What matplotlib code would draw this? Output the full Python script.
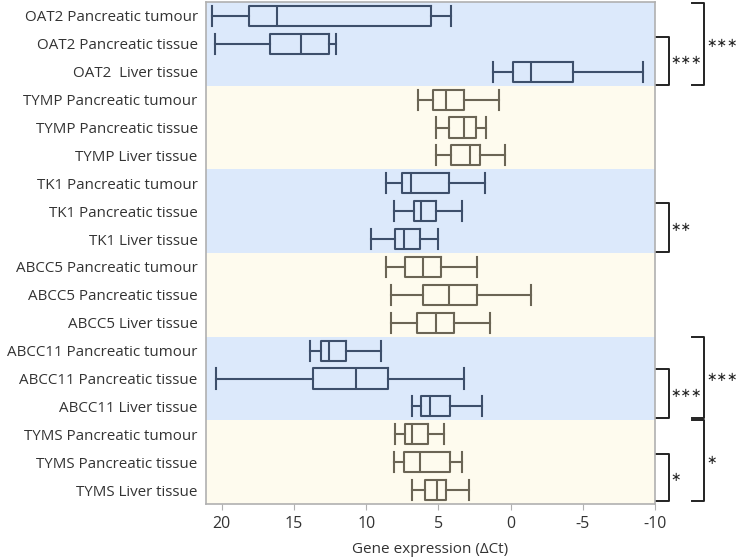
import matplotlib
matplotlib.use("Agg")
import matplotlib.pyplot as plt
from matplotlib.transforms import blended_transform_factory

plt.rcParams['font.family'] = ['Open Sans', 'DejaVu Sans']

labels = [
    "OAT2 Pancreatic tumour", "OAT2 Pancreatic tissue", "OAT2  Liver tissue",
    "TYMP Pancreatic tumour", "TYMP Pancreatic tissue", "TYMP Liver tissue",
    "TK1 Pancreatic tumour", "TK1 Pancreatic tissue", "TK1 Liver tissue",
    "ABCC5 Pancreatic tumour", "ABCC5 Pancreatic tissue", "ABCC5 Liver tissue",
    "ABCC11 Pancreatic tumour", "ABCC11 Pancreatic tissue", "ABCC11 Liver tissue",
    "TYMS Pancreatic tumour", "TYMS Pancreatic tissue", "TYMS Liver tissue",
]
whis_high = [20.7, 20.5, 1.2, 6.4, 5.2, 5.2, 8.6, 8.1, 9.7, 8.6, 8.3, 8.3, 13.9, 20.4, 6.8, 8.0, 8.1, 6.8]
q3 = [18.1, 16.7, -0.2, 5.4, 4.3, 4.1, 7.5, 6.7, 8.0, 7.3, 6.1, 6.5, 13.1, 13.7, 6.2, 7.3, 7.4, 5.9]
median = [16.2, 14.5, -1.4, 4.5, 3.2, 2.8, 6.9, 6.2, 7.4, 6.1, 4.3, 5.2, 12.6, 10.7, 5.6, 6.8, 6.3, 5.1]
q1 = [5.5, 12.6, -4.3, 3.2, 2.4, 2.1, 4.3, 5.2, 6.3, 4.8, 2.3, 3.9, 11.4, 8.5, 4.2, 5.7, 4.2, 4.5]
whis_low = [4.1, 12.1, -9.2, 0.8, 1.7, 0.4, 1.8, 3.4, 5.0, 2.3, -1.4, 1.4, 9.0, 3.2, 2.0, 4.6, 3.4, 2.9]

# brackets: (top row, bottom row, text, level)
brackets = [
    (0.75, 2.47, "∗∗∗", 0), (-0.46, 2.47, "∗∗∗", 1),
    (6.7, 8.46, "∗∗", 0),
    (12.65, 14.4, "∗∗∗", 0), (11.5, 14.4, "∗∗∗", 1),
    (15.7, 17.4, "∗", 0), (14.5, 17.4, "∗", 1),
]

blue_bg = "#dce9fb"
yellow_bg = "#fefbee"
blue_edge = "#3d4f6b"
yellow_edge = "#6b6555"

fig = plt.figure(figsize=(7.37, 5.6), dpi=100)
ax = fig.add_axes([0.2795, 0.1, 0.8887 - 0.2795, 0.9964 - 0.1])

n = len(labels)
for g in range(6):
    color = blue_bg if g % 2 == 0 else yellow_bg
    ax.axhspan(g * 3 - 0.5, g * 3 + 2.5, color=color, zorder=0, lw=0)

for i in range(n):
    edge = blue_edge if (i // 3) % 2 == 0 else yellow_edge
    stats = [dict(whislo=whis_low[i], q1=q1[i], med=median[i], q3=q3[i], whishi=whis_high[i], fliers=[])]
    props = dict(color=edge, linewidth=1.5)
    ax.bxp(stats, positions=[i], vert=False, widths=0.72, capwidths=0.72, showfliers=False,
           boxprops=props, medianprops=props, whiskerprops=props, capprops=props,
           manage_ticks=False)

ax.set_ylim(n - 0.5, -0.5)
ax.set_xlim(21.1, -10)
ax.set_yticks(range(n))
ax.set_yticklabels(labels, fontsize=10.9, color="#333333")
ax.tick_params(axis='y', length=0, pad=6)
ax.set_xticks([20, 15, 10, 5, 0, -5, -10])
ax.set_xticklabels(["20", "15", "10", "5", "0", "-5", "-10"], fontsize=11.5, color="#333333")
ax.tick_params(axis='x', length=4, color="#b0b0b0", pad=5)
ax.set_xlabel("Gene expression (ΔCt)", fontsize=11, color="#333333", labelpad=7)
for s in ax.spines.values():
    s.set_color("#b0b0b0")
    s.set_linewidth(1.2)

trans = blended_transform_factory(ax.transAxes, ax.transData)
for top, bot, txt, lvl in brackets:
    if lvl == 0:
        x0, x1, xt = 1.002, 1.031, 1.034
    else:
        x0, x1, xt = 1.082, 1.109, 1.114
    ax.plot([x0, x1, x1, x0], [top, top, bot, bot], color="#222222", lw=1.4,
            transform=trans, clip_on=False)
    ax.text(xt, (top + bot) / 2, txt, transform=trans, fontsize=9, va='center',
            ha='left', color="#222222", clip_on=False, family='DejaVu Sans')

fig.savefig("out.png", dpi=100)
